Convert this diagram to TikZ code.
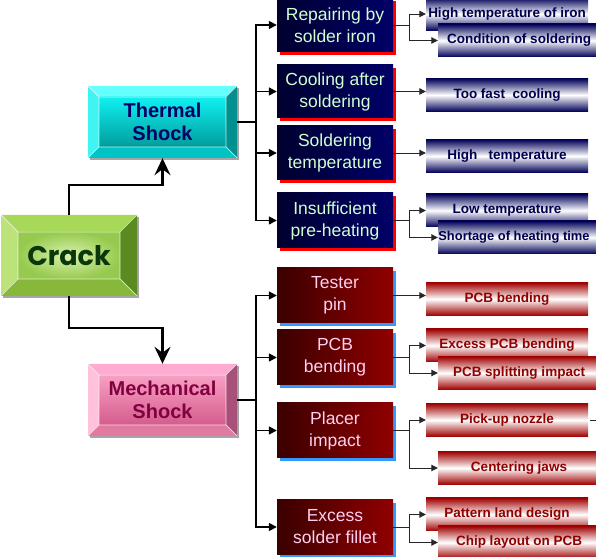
\documentclass[tikz,border=0pt]{standalone}
\usepackage{fontspec}
\setmainfont{Liberation Sans}
\newfontfamily\crackfont{Poppins}
\usetikzlibrary{calc,arrows.meta,shadows}
\definecolor{navyA}{HTML}{000030}
\definecolor{navyB}{HTML}{000068}
\definecolor{mint}{HTML}{D0FFD0}
\definecolor{marA}{HTML}{3A0000}
\definecolor{marB}{HTML}{900000}
\definecolor{pinkT}{HTML}{FFD0F0}
\definecolor{navyR}{HTML}{000058}
\definecolor{navyT}{HTML}{000050}
\definecolor{redR}{HTML}{A00000}
\definecolor{redT}{HTML}{900000}
\definecolor{shblue}{HTML}{3399FF}
\definecolor{cyTop}{HTML}{66FFFF}
\definecolor{cyLeft}{HTML}{40F4F4}
\definecolor{cyRight}{HTML}{009090}
\definecolor{cyBot}{HTML}{00C4C4}
\definecolor{cyIn1}{HTML}{10F0F0}
\definecolor{cyIn2}{HTML}{009C9C}
\definecolor{thText}{HTML}{000066}
\definecolor{pkTop}{HTML}{FFAAD0}
\definecolor{pkLeft}{HTML}{FFC2DA}
\definecolor{pkRight}{HTML}{A8507A}
\definecolor{pkBot}{HTML}{E07AA0}
\definecolor{pkIn1}{HTML}{F8A0C4}
\definecolor{pkIn2}{HTML}{D45C8C}
\definecolor{mcText}{HTML}{800040}
\definecolor{grTop}{HTML}{A8D858}
\definecolor{grLeft}{HTML}{BCE27A}
\definecolor{grRight}{HTML}{5A8A20}
\definecolor{grBot}{HTML}{88B83A}
\definecolor{grIn1}{HTML}{DAF2AE}
\definecolor{grIn2}{HTML}{96CA4E}
\definecolor{crText}{HTML}{0A380A}
\newcommand\bevelfill[6]{%
  \coordinate (bnw) at (path picture bounding box.north west);
  \coordinate (bne) at (path picture bounding box.north east);
  \coordinate (bsw) at (path picture bounding box.south west);
  \coordinate (bse) at (path picture bounding box.south east);
  \fill[#2] (bnw) -- (bne) -- ($(bne)+(-#1,-#1)$) -- ($(bnw)+(#1,-#1)$) -- cycle;
  \fill[#3] (bnw) -- ($(bnw)+(#1,-#1)$) -- ($(bsw)+(#1,#1)$) -- (bsw) -- cycle;
  \fill[#4] (bne) -- ($(bne)+(-#1,-#1)$) -- ($(bse)+(-#1,#1)$) -- (bse) -- cycle;
  \fill[#5] (bsw) -- ($(bsw)+(#1,#1)$) -- ($(bse)+(-#1,#1)$) -- (bse) -- cycle;
  \shade[#6] ($(bnw)+(#1,-#1)$) rectangle ($(bse)+(-#1,#1)$);
  \draw[white, opacity=0.75, line width=0.7pt] ($(bnw)+(#1,-#1)$) rectangle ($(bse)+(-#1,#1)$)
     (bnw) -- ($(bnw)+(#1,-#1)$) (bne) -- ($(bne)+(-#1,-#1)$)
     (bsw) -- ($(bsw)+(#1,#1)$) (bse) -- ($(bse)+(-#1,#1)$);
}
\begin{document}
\begin{tikzpicture}[x=1pt,y=1pt,
  bevel/.style n args={6}{path picture={\bevelfill{#1}{#2}{#3}{#4}{#5}{#6}},
     general shadow={fill=black!35, shadow xshift=2pt, shadow yshift=-2pt}},
  bigbox/.style={minimum width=149pt, minimum height=72pt, inner sep=0pt, align=center,
     font=\bfseries\fontsize{20}{23}\selectfont},
  darkT/.style={minimum width=116pt, minimum height=54pt, inner sep=0pt, align=center,
     left color=navyA, right color=navyB, text=mint, font=\fontsize{17.5}{22}\selectfont,
     general shadow={fill=red, shadow xshift=3pt, shadow yshift=-3pt}},
  darkM/.style={minimum width=116pt, minimum height=54pt, inner sep=0pt, align=center,
     left color=marA, right color=marB, text=pinkT, font=\fontsize{17.5}{22}\selectfont,
     general shadow={fill=shblue, shadow xshift=3pt, shadow yshift=-3pt}},
  resT/.style={minimum width=162pt, minimum height=33pt, inner sep=0pt,
     top color=navyR, bottom color=navyR, middle color=white, text=navyT,
     font=\bfseries\fontsize{13.5}{16}\selectfont},
  resM/.style={minimum width=162pt, minimum height=33pt, inner sep=0pt,
     top color=redR, bottom color=redR, middle color=white, text=redT,
     font=\bfseries\fontsize{13.5}{16}\selectfont},
  big/.style={line width=2.2pt, -{Stealth[length=17pt,width=16pt,inset=6pt]}},
  mid/.style={line width=1.6pt},
  midarrow/.style={line width=1.6pt, -{Triangle[length=8pt,width=8pt]}},
  thin/.style={line width=0.9pt, black!85},
  thinarrow/.style={line width=0.9pt, black!85, -{Triangle[length=6.5pt,width=6.5pt]}}
]
\useasboundingbox (0,0) rectangle (596,556);
\clip (0,0) rectangle (596,556);
\fill[white] (0,0) rectangle (596,556);

% main boxes
\node[bigbox, minimum width=136pt, minimum height=81pt,
      bevel={17}{grTop}{grLeft}{grRight}{grBot}{inner color=grIn1, outer color=grIn2},
      text=crText, font=\crackfont\bfseries\fontsize{27}{30}\selectfont] (crack) at (69,300.5) {Crack};
\node[bigbox, text=thText,
      bevel={11}{cyTop}{cyLeft}{cyRight}{cyBot}{top color=cyIn1, bottom color=cyIn2}] (thermal) at (162.5,434) {Thermal\\Shock};
\node[bigbox, text=mcText,
      bevel={11}{pkTop}{pkLeft}{pkRight}{pkBot}{top color=pkIn1, bottom color=pkIn2}] (mech) at (162.5,156) {Mechanical\\Shock};

% second level
\node[darkT] (T1) at (335,531) {Repairing by\\solder iron};
\node[darkT, minimum height=53pt] (T2) at (335,464.5) {Cooling after\\soldering};
\node[darkT] (T3) at (335,403) {Soldering\\temperature};
\node[darkT, minimum height=55pt] (T4) at (335,335.5) {Insufficient\\pre-heating};
\node[darkM, minimum height=55pt] (M1) at (335,260.5) {Tester\\pin};
\node[darkM, minimum height=55pt] (M2) at (335,198.5) {PCB\\bending};
\node[darkM, minimum height=55pt] (M3) at (335,125.5) {Placer\\impact};
\node[darkM] (M4) at (335,29) {Excess\\solder fillet};

% results
\node[resT] (R1) at (507,542) {High temperature of iron};
\node[resT] (R2) at (519,515.5) {Condition of soldering};
\node[resT] (R3) at (507,461) {Too fast\ \ cooling};
\node[resT] (R4) at (507,400) {High\ \ \ temperature};
\node[resT] (R5) at (507,345.5) {Low temperature};
\node[resT, font=\bfseries\fontsize{12.9}{16}\selectfont] (R6) at (519,318.5) {\hspace*{-10pt}Shortage of heating time};
\node[resM] (R7) at (507,257) {PCB bending};
\node[resM] (R8) at (507,210.5) {Excess PCB bending};
\node[resM] (R9) at (519,183) {PCB splitting impact};
\node[resM] (R10) at (507,136) {Pick-up nozzle};
\node[resM] (R11) at (519,88) {Centering jaws};
\node[resM] (R12) at (507,41.5) {Pattern land design};
\node[resM] (R13) at (519,13.5) {Chip layout on PCB};

% crack connectors
\draw[big] (crack.north) -- ++(0,30) -| (thermal.south);
\draw[big] (crack.south) -- ++(0,-32) -| (mech.north);

% buses
\coordinate (tbus) at (256,434);
\draw[mid] (thermal.east) -- (tbus);
\foreach \n in {T1,T2,T3,T4} \draw[midarrow] (tbus) |- (\n.west);
\coordinate (mbus) at (256,156);
\draw[mid] (mech.east) -- (mbus);
\foreach \n in {M1,M2,M3,M4} \draw[midarrow] (mbus) |- (\n.west);

% result connectors
\draw[thin] (T1.east) -- ++(16,0) coordinate (b1);
\draw[thinarrow] (b1) |- (R1.west);
\draw[thinarrow] (b1) |- (R2.west);
\draw[thinarrow] (T2.east) -- (T2.east -| R3.west);
\draw[thinarrow] (T3.east) -- (T3.east -| R4.west);
\draw[thin] (T4.east) -- ++(16,0) coordinate (b4);
\draw[thinarrow] (b4) |- (R5.west);
\draw[thinarrow] (b4) |- (R6.west);
\draw[thinarrow] (M1.east) -- (M1.east -| R7.west);
\draw[thin] (M2.east) -- ++(16,0) coordinate (b6);
\draw[thinarrow] (b6) |- (R8.west);
\draw[thinarrow] (b6) |- (R9.west);
\draw[thin] (M3.east) -- ++(16,0) coordinate (b7);
\draw[thinarrow] (b7) |- (R10.west);
\draw[thinarrow] (b7) |- (R11.west);
\draw[thin] (M4.east) -- ++(16,0) coordinate (b8);
\draw[thinarrow] (b8) |- (R12.west);
\draw[thinarrow] (b8) |- (R13.west);
\coordinate (pk) at (600,136);
\draw[thin] ([xshift=2pt]R10.east) -- (pk);
\end{tikzpicture}
\end{document}
